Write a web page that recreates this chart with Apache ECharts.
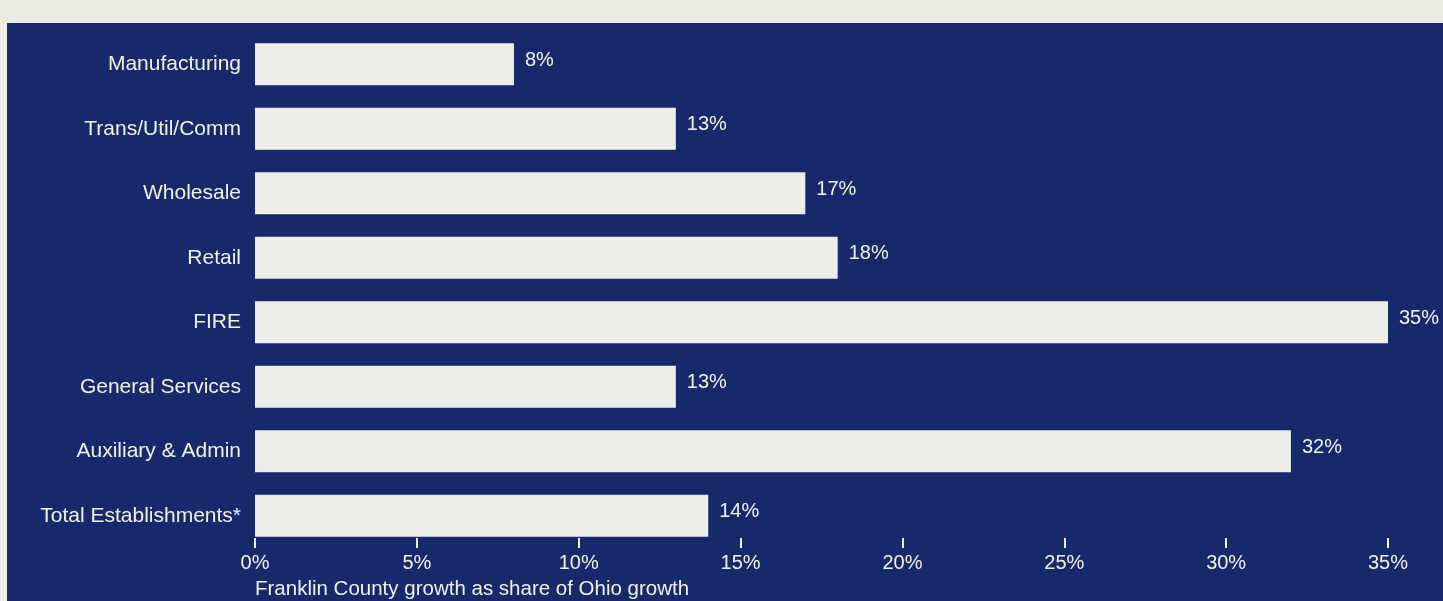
<!DOCTYPE html>
<html>
<head>
<meta charset="utf-8">
<style>
  html, body { margin: 0; padding: 0; background: #ebeae3; width: 1443px; height: 601px; overflow: hidden; }
  #chart { position: absolute; left: 7px; top: 23px; width: 1436px; height: 578px; background: #18296b; }
</style>
<script src="https://cdn.jsdelivr.net/npm/echarts@6/dist/echarts.min.js"></script>
</head>
<body>
<div id="chart"></div>
<script>
const categories = ['Manufacturing', 'Trans/Util/Comm', 'Wholesale', 'Retail', 'FIRE', 'General Services', 'Auxiliary & Admin', 'Total Establishments*'];
const values = [8, 13, 17, 18, 35, 13, 32, 14];
const xTicks = [0, 5, 10, 15, 20, 25, 30, 35];
const axisTitle = 'Franklin County growth as share of Ohio growth';

const txt = '#f1f1ec';
const font = '"Liberation Sans", Arial, sans-serif';
const chart = echarts.init(document.getElementById('chart'), null, { renderer: 'canvas' });
chart.setOption({
  animation: false,
  title: {
    text: axisTitle,
    left: 248, top: 556, padding: 0,
    textStyle: { color: txt, fontSize: 20.5, fontWeight: 'normal', fontFamily: font }
  },
  grid: { left: 248, right: 55, top: 9, bottom: 53, containLabel: false },
  xAxis: {
    type: 'value',
    min: xTicks[0], max: xTicks[xTicks.length - 1], interval: 5,
    axisLine: { show: false },
    splitLine: { show: false },
    axisTick: { show: true, inside: true, length: 10, lineStyle: { color: txt, width: 2 } },
    axisLabel: { color: txt, fontSize: 20, fontFamily: font, margin: 5, formatter: v => v + '%' }
  },
  yAxis: {
    type: 'category',
    data: categories,
    inverse: true,
    axisLine: { show: false },
    axisTick: { show: false },
    axisLabel: { color: txt, fontSize: 21, fontFamily: font, margin: 14 }
  },
  series: [{
    type: 'bar',
    data: values,
    barWidth: '65%',
    itemStyle: { color: '#eceee9' },
    label: {
      show: true, position: 'right', distance: 11, offset: [0, -4],
      color: txt, fontSize: 20, fontFamily: font,
      formatter: p => p.value + '%'
    }
  }]
});
</script>
</body>
</html>
